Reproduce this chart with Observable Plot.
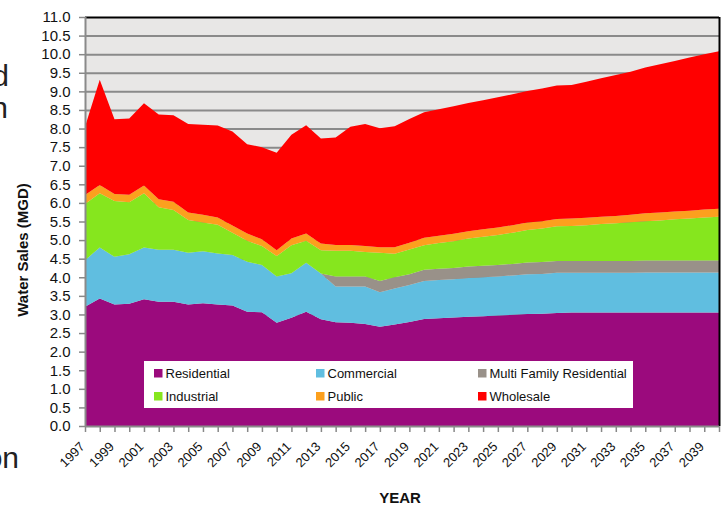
<!DOCTYPE html>
<html><head><meta charset="utf-8">
<script src="https://cdn.jsdelivr.net/npm/d3@7"></script>
<script src="https://cdn.jsdelivr.net/npm/@observablehq/plot@0.6"></script>
<style>body{margin:0;background:#fff;} svg{display:block}</style>
</head><body><div id="chart"></div>
<script>
const years = [1997,1998,1999,2000,2001,2002,2003,2004,2005,2006,2007,2008,2009,2010,2011,2012,2013,2014,2015,2016,2017,2018,2019,2020,2021,2022,2023,2024,2025,2026,2027,2028,2029,2030,2031,2032,2033,2034,2035,2036,2037,2038,2039,2040];
const tickLabels = ["1997","1999","2001","2003","2005","2007","2009","2011","2013","2015","2017","2019","2021","2023","2025","2027","2029","2031","2033","2035","2037","2039"];
const yTicks = [0,0.5,1,1.5,2,2.5,3,3.5,4,4.5,5,5.5,6,6.5,7,7.5,8,8.5,9,9.5,10,10.5,11];
const seriesNames = ["Residential","Commercial","Multi Family Residential","Industrial","Public","Wholesale"];
const colors = ["#9b0a7d","#60bee0","#999189","#86e61e","#fca01e","#ff0000"];

const residential = [3.21,3.43,3.27,3.29,3.41,3.34,3.34,3.27,3.30,3.27,3.24,3.07,3.06,2.78,2.91,3.07,2.87,2.79,2.78,2.74,2.67,2.73,2.80,2.88,2.90,2.92,2.94,2.95,2.97,2.99,3.01,3.02,3.04,3.05,3.05,3.05,3.05,3.05,3.05,3.05,3.05,3.05,3.05,3.05];
const commercial = [1.25,1.37,1.28,1.33,1.39,1.40,1.40,1.39,1.40,1.37,1.36,1.35,1.27,1.24,1.20,1.32,1.23,0.96,0.97,1.01,0.93,0.97,0.99,1.02,1.03,1.03,1.04,1.05,1.05,1.06,1.07,1.07,1.08,1.07,1.07,1.07,1.07,1.07,1.08,1.08,1.08,1.08,1.08,1.08];
const multiFamily = [0,0,0,0,0,0,0,0,0,0,0,0,0,0,0,0,0,0.27,0.27,0.27,0.30,0.30,0.29,0.30,0.30,0.30,0.31,0.31,0.31,0.31,0.32,0.32,0.32,0.32,0.32,0.32,0.32,0.32,0.32,0.32,0.32,0.32,0.32,0.32];
const industrial = [1.51,1.46,1.50,1.40,1.46,1.14,1.07,0.88,0.77,0.77,0.60,0.56,0.51,0.55,0.75,0.59,0.63,0.69,0.69,0.66,0.76,0.63,0.67,0.66,0.69,0.72,0.75,0.78,0.81,0.84,0.87,0.90,0.93,0.94,0.96,0.99,1.01,1.04,1.06,1.08,1.11,1.13,1.16,1.18];
const publicUse = [0.24,0.22,0.19,0.20,0.21,0.22,0.22,0.20,0.21,0.20,0.19,0.20,0.18,0.16,0.18,0.20,0.18,0.16,0.16,0.16,0.15,0.18,0.18,0.20,0.20,0.20,0.20,0.20,0.20,0.20,0.20,0.20,0.20,0.20,0.20,0.20,0.20,0.20,0.21,0.21,0.21,0.21,0.21,0.21];
const wholesale = [1.84,2.83,2.01,2.05,2.21,2.28,2.33,2.38,2.42,2.47,2.53,2.40,2.48,2.62,2.79,2.91,2.82,2.89,3.18,3.28,3.20,3.25,3.33,3.38,3.40,3.43,3.45,3.47,3.50,3.52,3.54,3.57,3.59,3.59,3.66,3.72,3.79,3.85,3.92,3.99,4.05,4.12,4.18,4.24];

const seriesValues = [residential, commercial, multiFamily, industrial, publicUse, wholesale];
const data = seriesNames.flatMap((s, i) => years.map((yr, j) => ({year: yr, series: s, value: seriesValues[i][j]})));
const labelYears = tickLabels.map(Number);

const chart = Plot.plot({
  width: 725, height: 506,
  marginLeft: 85, marginRight: 6, marginTop: 17, marginBottom: 80,
  style: {fontFamily: "Arial, 'Liberation Sans', sans-serif", fontSize: "15px", color: "#111", background: "transparent"},
  x: {domain: [1997, 2040], ticks: years, tickFormat: () => "", tickSize: 6, label: null},
  y: {domain: [0, 11], ticks: yTicks, tickFormat: d => d.toFixed(1), tickSize: 6, tickPadding: 9, label: null},
  color: {domain: seriesNames, range: colors},
  marks: [
    Plot.frame({fill: "#e8e7e6", stroke: null}),
    Plot.ruleY(yTicks.filter(v => v > 0 && v < 11), {stroke: "#8a8a8a", strokeWidth: 2}),
    Plot.areaY(data, {x: "year", y: "value", z: "series", fill: "series", order: seriesNames}),
    Plot.ruleY([11], {stroke: "#000", strokeWidth: 2}),
    Plot.ruleX([2040], {stroke: "#000", strokeWidth: 2}),
    Plot.ruleX([1997], {stroke: "#8a8a8a", strokeWidth: 2}),
    Plot.ruleY([0], {stroke: "#8a8a8a", strokeWidth: 2}),
    Plot.text(labelYears, {x: d => d, text: (d, i) => tickLabels[i], frameAnchor: "bottom", rotate: -45, textAnchor: "end", dy: 21, fontSize: 13, fill: "#111"})
  ]
});

const svg = d3.select(chart);
svg.selectAll("g[aria-label*='axis'] line, g[aria-label*='tick'] path").attr("stroke", "#888").attr("stroke-width", 1.5);

// legend inside plot
const lg = svg.append("g").attr("font-family", "Arial, 'Liberation Sans', sans-serif").attr("font-size", 13).attr("text-anchor", "start");
lg.append("rect").attr("x", 144).attr("y", 361).attr("width", 489).attr("height", 47).attr("fill", "#fff");
const cols = [154, 316, 478], rows = [377.5, 400.5];
seriesNames.forEach((s, i) => {
  const cx = cols[i % 3], ry = rows[Math.floor(i / 3)];
  lg.append("rect").attr("x", cx).attr("y", ry - 8.5).attr("width", 8.5).attr("height", 8.5).attr("fill", colors[i]);
  lg.append("text").attr("x", cx + 11.5).attr("y", ry).attr("text-anchor", "start").attr("fill", "#111").text(s);
});

// axis titles
svg.append("text").attr("transform", "translate(28,250) rotate(-90)").attr("text-anchor", "middle")
  .attr("font-weight", "bold").attr("font-size", 15).attr("fill", "#111").text("Water Sales (MGD)");
svg.append("text").attr("x", 400).attr("y", 503).attr("text-anchor", "middle")
  .attr("font-weight", "bold").attr("font-size", 15).attr("fill", "#111").text("YEAR");

// cropped slide text fragments at left edge (cut off in the reference too)
const frag = svg.append("g").attr("font-family", "Arial, 'Liberation Sans', sans-serif").attr("font-size", 30).attr("fill", "#222").attr("text-anchor", "end");
frag.append("text").attr("x", 9).attr("y", 86).text("d");
frag.append("text").attr("x", 8).attr("y", 118).text("n");
frag.append("text").attr("x", 19).attr("y", 468).text("on");

document.getElementById("chart").appendChild(chart);
</script>
</body></html>
